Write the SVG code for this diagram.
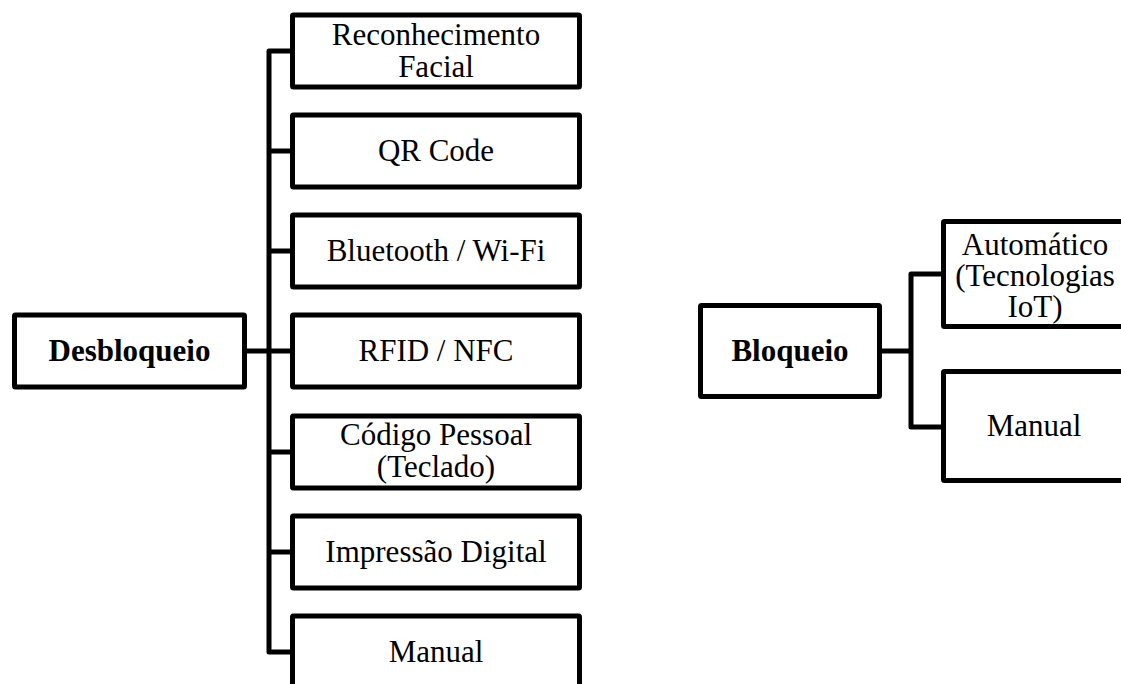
<svg xmlns="http://www.w3.org/2000/svg" width="1121" height="684" viewBox="0 0 1121 684">
  <style>
    .box { fill: #ffffff; stroke: #000000; stroke-width: 5; }
    .wire { fill: none; stroke: #000000; stroke-width: 5; stroke-linejoin: round; }
    .lbl { font-family: "Liberation Serif", "Times New Roman", serif; font-size: 31px; fill: #000000; text-anchor: middle; }
    .root { font-weight: bold; }
  </style>
  <rect width="1121" height="684" fill="#ffffff"/>

  <!-- connectors -->
  <g id="connectors">
    <path class="wire" d="M292,51 H269 V652 H292"/>
    <path class="wire" d="M244,351 H292"/>
    <path class="wire" d="M269,151 H292 M269,251 H292 M269,452 H292 M269,552 H292"/>
    <path class="wire" d="M943,274 H911 V427 H943"/>
    <path class="wire" d="M880,351 H911"/>
  </g>

  <!-- unlocking tree -->
  <g id="desbloqueio">
    <rect class="box" x="14.5" y="315" width="230" height="72" rx="1"/>
    <text class="lbl root" x="129.5" y="361">Desbloqueio</text>
  </g>
  <g id="reconhecimento-facial">
    <rect class="box" x="292.5" y="15" width="287" height="72" rx="1"/>
    <text class="lbl" x="436" y="45">Reconhecimento</text>
    <text class="lbl" x="436" y="77">Facial</text>
  </g>
  <g id="qr-code">
    <rect class="box" x="292.5" y="115" width="287" height="72" rx="1"/>
    <text class="lbl" x="436" y="161">QR Code</text>
  </g>
  <g id="bluetooth-wifi">
    <rect class="box" x="292.5" y="215" width="287" height="72" rx="1"/>
    <text class="lbl" x="436" y="261">Bluetooth / Wi-Fi</text>
  </g>
  <g id="rfid-nfc">
    <rect class="box" x="292.5" y="315" width="287" height="72" rx="1"/>
    <text class="lbl" x="436" y="361">RFID / NFC</text>
  </g>
  <g id="codigo-pessoal">
    <rect class="box" x="292.5" y="416" width="287" height="72" rx="1"/>
    <text class="lbl" x="436" y="445">Código Pessoal</text>
    <text class="lbl" x="436" y="477">(Teclado)</text>
  </g>
  <g id="impressao-digital">
    <rect class="box" x="292.5" y="516" width="287" height="72" rx="1"/>
    <text class="lbl" x="436" y="562">Impressão Digital</text>
  </g>
  <g id="manual-desbloqueio">
    <rect class="box" x="292.5" y="616" width="287" height="74" rx="1"/>
    <text class="lbl" x="436" y="662">Manual</text>
  </g>

  <!-- locking tree -->
  <g id="bloqueio">
    <rect class="box" x="700.5" y="305.5" width="179" height="91" rx="1"/>
    <text class="lbl root" x="790" y="361">Bloqueio</text>
  </g>
  <g id="automatico">
    <rect class="box" x="943.5" y="221.5" width="190" height="105" rx="1"/>
    <text class="lbl" x="1035" y="255">Automático</text>
    <text class="lbl" x="1035" y="286">(Tecnologias</text>
    <text class="lbl" x="1035" y="317">IoT)</text>
  </g>
  <g id="manual-bloqueio">
    <rect class="box" x="943.5" y="371.5" width="190" height="109" rx="1"/>
    <text class="lbl" x="1034" y="436">Manual</text>
  </g>
</svg>
